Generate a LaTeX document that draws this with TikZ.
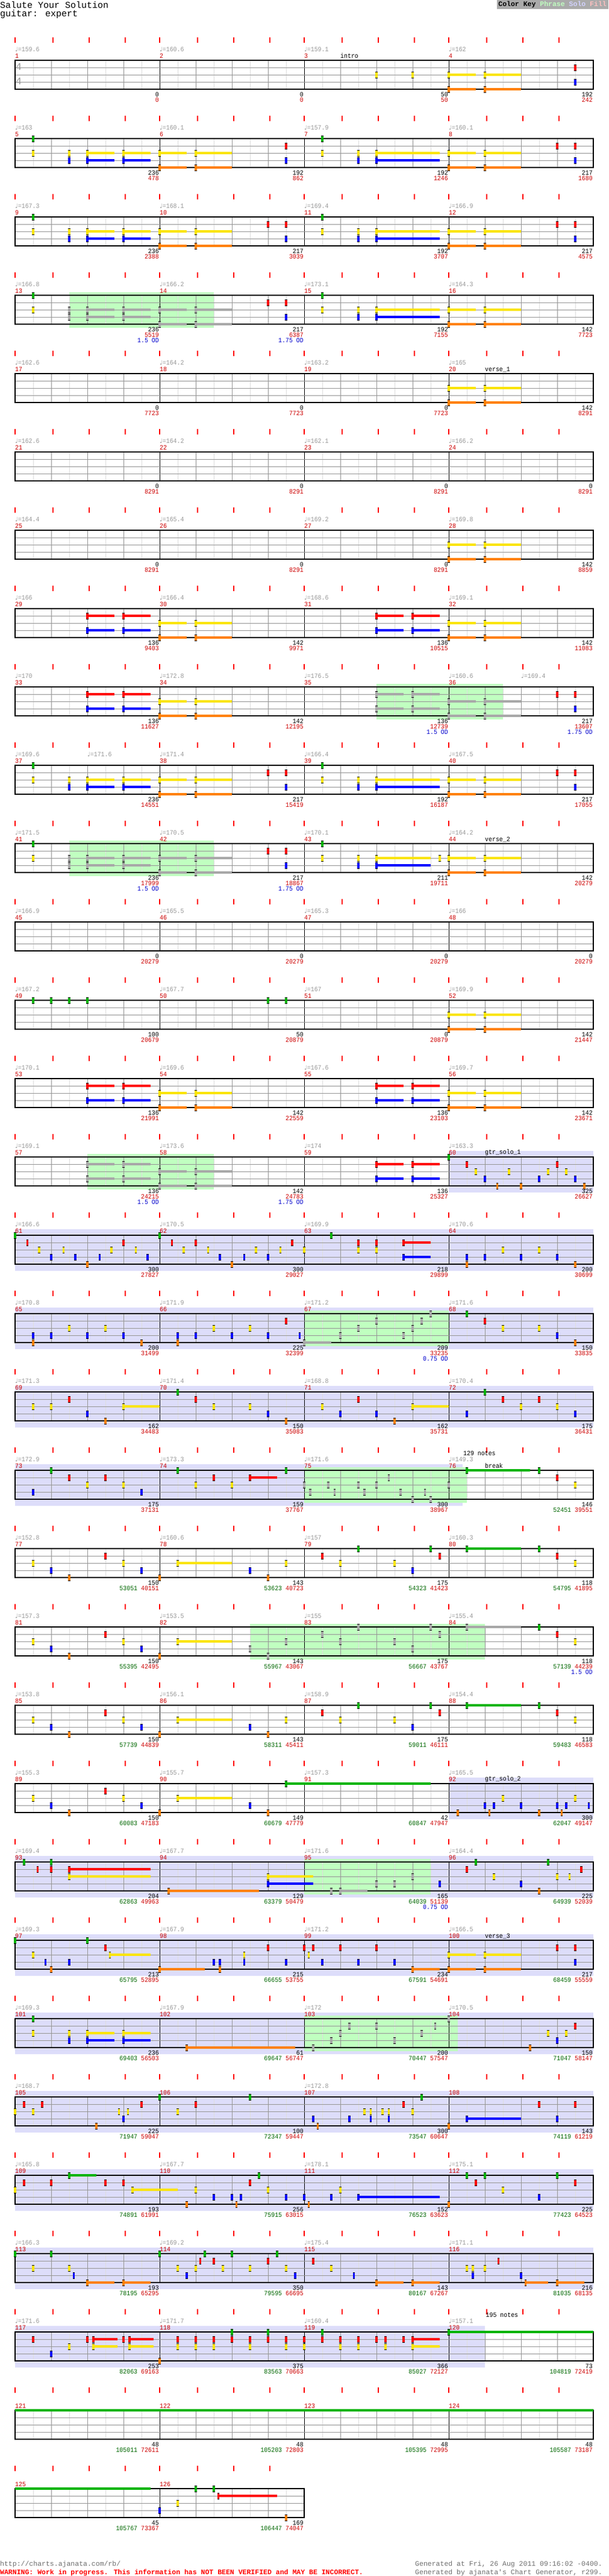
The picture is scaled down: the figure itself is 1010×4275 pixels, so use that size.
\documentclass[tikz,border=0pt]{standalone}
\usepackage{fontspec}
\usepackage{tikz}
\newfontfamily\chartfont[FakeStretch=0.9]{Liberation Mono}
\newfontfamily\plainmono{Liberation Mono}
\newfontfamily\symfont{DejaVu Sans}
\definecolor{nG}{RGB}{0,180,0}
\definecolor{nR}{RGB}{255,0,0}
\definecolor{nY}{RGB}{250,228,0}
\definecolor{nB}{RGB}{0,0,255}
\definecolor{nO}{RGB}{255,128,0}
\definecolor{nS}{RGB}{168,168,168}
\definecolor{phrase}{RGB}{192,255,192}
\definecolor{solofill}{RGB}{221,221,250}
\definecolor{keygray}{RGB}{170,170,170}
\definecolor{keysolo}{RGB}{210,210,255}
\definecolor{keyfill}{RGB}{255,192,192}
\definecolor{tempogray}{RGB}{150,150,150}
\definecolor{darkred}{RGB}{204,0,0}
\definecolor{scgreen}{RGB}{0,102,0}
\definecolor{odblue}{RGB}{0,0,204}
\definecolor{lightline}{RGB}{222,222,222}
\definecolor{midline}{RGB}{150,150,150}
\definecolor{footgray}{RGB}{110,110,110}
\newcommand\cf{\chartfont\fontsize{11}{11}\selectfont}
% lanes and colours of the note letters (lower case = star power)
\def\laneG{0}\def\laneR{1}\def\laneY{2}\def\laneB{3}\def\laneO{4}
\def\laneg{0}\def\laner{1}\def\laney{2}\def\laneb{3}\def\laneo{4}
\def\colG{nG}\def\colR{nR}\def\colY{nY}\def\colB{nB}\def\colO{nO}
\def\colg{nS}\def\colr{nS}\def\coly{nS}\def\colb{nS}\def\colo{nS}
\newcommand\grn[1]{\textcolor{scgreen}{#1}}
\newcommand\rowat[1]{\pgfmathtruncatemacro\rowK{#1}\pgfmathsetmacro\rowT{100+130*(#1-1)}}
\newcommand\staff[1]{%
  \pgfmathtruncatemacro\nq{#1/2-1}%
  \pgfmathtruncatemacro\nk{#1-1}%
  \pgfmathtruncatemacro\nm{#1/8}%
  \pgfmathsetmacro\xr{25+30*#1}%
  \foreach \q in {0,...,\nq}{%
    \pgfmathsetmacro\tx{25+60*\q+ifthenelse(mod(\q,4)==0,0,3)}%
    \draw[tick] (\tx,\rowT-38) -- (\tx,\rowT-29);}%
  \foreach \k in {1,...,\nk}{%
    \pgfmathtruncatemacro\lk{mod(\k,8)==0 ? 2 : (mod(\k,2)==0 ? 1 : 0)}%
    \ifcase\lk \draw[eighthline] ({25+30*\k},\rowT) -- ++(0,48);
    \or \draw[beatline] ({25+30*\k},\rowT) -- ++(0,48);
    \or \draw[barline] ({25+30*\k},\rowT) -- ++(0,48);\fi}%
  \foreach \ly in {12,24,36}{\draw[laneline] (25,\rowT+\ly) -- (\xr,\rowT+\ly);}%
  \draw[border] (25,\rowT) rectangle (\xr,\rowT+48);
  \foreach \i in {1,...,\nm}{\node[msr] at ({25+240*(\i-1)},\rowT-7) {\the\numexpr\rowK*4-4+\i\relax};}}
\newcommand\tempo[2]{\node[tmp] at ({25+30*#1},\rowT-18) {{\symfont\fontsize{10}{10}\selectfont ♩}=#2};}
\newcommand\tempos[1]{\foreach \tv [count=\ti from 0] in {#1}{\tempo{8*\ti}{\tv}}}
\newcommand\sect[2]{\node[sec] at ({25+30*#1},\rowT-7) {#2};}
\newcommand\score[3]{\node[scr] at ({24+30*#1},\rowT+57) {#2};\node[cum] at ({24+30*#1},\rowT+66) {#3};}
\newcommand\scores[1]{\foreach \sa/\sb [count=\si] in {#1}{\score{8*\si}{\sa}{\sb}}}
\newcommand\od[2]{\node[odl] at ({24+30*#1},\rowT+75) {#2 OD};}
\newcommand\phr[2]{\fill[phrase] ({25+30*#1},\rowT-5) rectangle ({25+30*#2},\rowT+54);}
\newcommand\solo[2]{\fill[solofill] ({25+30*#1},\rowT-10) rectangle ({25+30*#2},\rowT+59);}
\newcommand\nt[2]{%
  \edef\nlane{\csname lane#1\endcsname}\edef\ncol{\csname col#1\endcsname}%
  \pgfmathsetmacro\nx{25+30*#2}\pgfmathsetmacro\ny{\rowT+12*\nlane}%
  \fill[black] (\nx-1.6,\ny-5.5) rectangle (\nx+1.6,\ny+5.5);
  \fill[\ncol] (\nx-1.6,\ny-4.5) rectangle (\nx+1.6,\ny+4.5);}
\newcommand\notes[1]{\foreach \nc/\ne in {#1}{\nt{\nc}{\ne}}}
\newcommand\susbar[1]{\foreach \nc/\na/\nb in {#1}{%
  \edef\nlane{\csname lane\nc\endcsname}\edef\ncol{\csname col\nc\endcsname}%
  \fill[\ncol] ({25+30*\na},\rowT+12*\nlane-1.7) rectangle ({25+30*\nb},\rowT+12*\nlane+1.7);}}
\newcommand\sus[1]{\susbar{#1}\foreach \nc/\na/\nb in {#1}{\nt{\nc}{\na}}}
% riffs that come back
\newcommand\tailYO{\sus{Y/24/25.5,Y/26/28,O/24/25.5,O/26/28}}
\newcommand\firstA{\notes{G/1,Y/1,Y/3,B/3,R/15,B/15}\sus{Y/4/5.5,Y/6/7.5,Y/8/9.5,Y/10/12,B/4/5.5,B/6/7.5,O/8/9.5,O/10/12}}
\newcommand\secondA{\notes{G/17,Y/17,Y/19,B/19}\sus{Y/20/23.5,B/20/23.5}\tailYO}
\newcommand\closeA{\notes{R/30,R/31,B/31}}
\newcommand\firstB{\sus{R/4/5.5,R/6/7.5,B/4/5.5,B/6/7.5,Y/8/9.5,Y/10/12,O/8/9.5,O/10/12}}
\newcommand\secondB{\sus{R/20/21.5,R/22/23.5,B/20/21.5,B/22/23.5}\tailYO}
\newcommand\firstSP{\notes{G/1,Y/1,y/3,b/3,R/14,R/15,B/15}\sus{y/4/5.5,y/6/7.5,y/8/9.5,y/10/12,b/4/5.5,b/6/7.5,o/8/9.5,o/10/12}}
\newcommand\riffC{\notes{Y/1,B/2,O/3,R/5,Y/6,B/7,O/8}\sus{Y/9/12}}
\newcommand\riffD{\notes{B/13,O/14,Y/15,R/17,Y/18,G/19,Y/21,B/22,G/23,R/23.5,G/29,R/30,Y/31}\sus{G/25/28}}

\begin{document}
\begin{tikzpicture}[x=1pt, y=-1pt,
    tick/.style={draw=nR, line width=1.6pt},
    eighthline/.style={draw=lightline, line width=0.8pt},
    beatline/.style={draw=midline, line width=0.8pt},
    barline/.style={draw=black, line width=1pt},
    laneline/.style={draw=midline, line width=1pt},
    border/.style={draw=black, line width=1.4pt},
    tmp/.style={anchor=west, inner sep=0pt, text=tempogray, font=\cf},
    msr/.style={anchor=west, inner sep=0pt, text=darkred, font=\cf},
    sec/.style={anchor=west, inner sep=0pt, text=black, font=\cf},
    scr/.style={anchor=east, inner sep=0pt, text=black, font=\cf},
    cum/.style={anchor=east, inner sep=0pt, text=darkred, font=\cf},
    odl/.style={anchor=east, inner sep=0pt, text=odblue, font=\cf},
    sig/.style={inner sep=0pt, text=tempogray, font=\plainmono\fontsize{17}{17}\selectfont},
    ttl/.style={anchor=west, inner sep=0pt, font=\plainmono\fontsize{15}{15}\selectfont},
    foot/.style={anchor=west, inner sep=0pt, text=footgray, font=\plainmono\fontsize{11.5}{11.5}\selectfont}
]
    \useasboundingbox (0,0) rectangle (1010,4275);

    % Header
    \node[ttl] (title) at (0,8) {Salute Your Solution};
    \node[ttl] (part) at (0,24) {guitar: expert};
    \fill[keygray] (825,0) rectangle (1010,15);
    \node[anchor=east, inner sep=0pt, font=\plainmono\bfseries\fontsize{11.5}{11.5}\selectfont] (key) at (1007,7.5)
        {Color Key \textcolor{phrase}{Phrase} \textcolor{keysolo}{Solo} \textcolor{keyfill}{Fill}};

    % Rows 1-4
    \rowat{1}\staff{32}\tempos{159.6,160.6,159.1,162}\sect{18}{intro}
    \node[sig] (sigtop) at (31,\rowT+11) {4};
    \node[sig] (sigbot) at (31,\rowT+35) {4};
    \scores{0/0,0/0,50/50,192/242}
    \notes{Y/20,Y/22,R/31,B/31}\tailYO

    \rowat{2}\staff{32}\tempos{163,160.1,157.9,160.1}
    \scores{236/478,192/862,192/1246,217/1680}
    \firstA\secondA\closeA

    \rowat{3}\staff{32}\tempos{167.3,168.1,169.4,166.9}
    \scores{236/2388,217/3039,192/3707,217/4575}
    \firstA\notes{R/14}\secondA\closeA

    \rowat{4}\phr{3}{11}\staff{32}\tempos{166.8,166.2,173.1,164.3}
    \scores{236/5519,217/6387,192/7155,142/7723}\od{8}{1.5}\od{16}{1.75}
    \firstSP\secondA

    % Rows 5-8
    \rowat{5}\staff{32}\tempos{162.6,164.2,163.2,165}\sect{26}{verse\_1}
    \scores{0/7723,0/7723,0/7723,142/8291}
    \tailYO

    \rowat{6}\staff{32}\tempos{162.6,164.2,162.1,166.2}
    \scores{0/8291,0/8291,0/8291,0/8291}

    \rowat{7}\staff{32}\tempos{164.4,165.4,169.2,169.8}
    \scores{0/8291,0/8291,0/8291,142/8859}
    \tailYO

    \rowat{8}\staff{32}\tempos{166,166.4,168.6,169.1}
    \scores{136/9403,142/9971,136/10515,142/11083}
    \firstB\secondB

    % Rows 9-12
    \rowat{9}\phr{20}{27}\staff{32}\tempos{170,172.8,176.5,160.6}\tempo{28}{169.4}
    \scores{136/11627,142/12195,136/12739,217/13607}\od{24}{1.5}\od{32}{1.75}
    \firstB\sus{r/20/21.5,r/22/23.5,b/20/21.5,b/22/23.5,y/24/25.5,y/26/28,o/24/25.5,o/26/28}\closeA

    \rowat{10}\staff{32}\tempos{169.6,171.4,166.4,167.5}\tempo{4}{171.6}
    \scores{236/14551,217/15419,192/16187,217/17055}
    \firstA\notes{R/14}\secondA\closeA

    \rowat{11}\phr{3}{11}\staff{32}\tempos{171.5,170.5,170.1,164.2}\sect{26}{verse\_2}
    \scores{236/17999,217/18867,211/19711,142/20279}\od{8}{1.5}\od{16}{1.75}
    \firstSP\notes{G/17,Y/17,Y/19,B/19,Y/23.5}\sus{Y/20/23,B/20/23}\tailYO

    \rowat{12}\staff{32}\tempos{166.9,165.5,165.3,166}
    \scores{0/20279,0/20279,0/20279,0/20279}

    % Rows 13-16
    \rowat{13}\staff{32}\tempos{167.2,167.7,167,169.9}
    \scores{100/20679,50/20879,0/20879,142/21447}
    \notes{G/1,G/2,G/3,G/4,G/14,G/15}\tailYO

    \rowat{14}\staff{32}\tempos{170.1,169.6,167.6,169.7}
    \scores{136/21991,142/22559,136/23103,142/23671}
    \firstB\secondB

    \rowat{15}\solo{24}{32}\phr{4}{11}\staff{32}\tempos{169.1,173.6,174,163.3}\sect{26}{gtr\_solo\_1}
    \scores{136/24215,142/24783,136/25327,325/26627}\od{8}{1.5}\od{16}{1.75}
    \sus{r/4/5.5,r/6/7.5,b/4/5.5,b/6/7.5,y/8/9.5,y/10/12,o/8/9.5,o/10/12,R/20/21.5,R/22/23.5,B/20/21.5,B/22/23.5}
    \notes{G/24,R/25,Y/25.5,B/26,O/26.67,Y/27.33,O/28,B/29,Y/29.5,R/30,Y/30.5,B/31,O/31.5}

    \rowat{16}\solo{0}{32}\staff{32}\tempos{166.6,170.5,169.9,170.6}
    \scores{300/27827,300/29027,218/29899,200/30699}
    \notes{G/0,R/0.67,Y/1.33,B/2,Y/2.67,B/3.33,O/4,B/4.67,Y/5.33,R/6,Y/6.67,B/7.33,G/8,R/8.67,Y/9.33,R/10,Y/10.67,B/11.33,O/12,B/12.67,Y/13.33,B/14,Y/14.67,R/15.33,Y/16,G/17.5,R/19,Y/19,R/20,Y/20,B/25,O/25,B/26,Y/27,B/28,Y/29,B/30,O/31}
    \sus{R/21.5/23,B/21.5/23}

    % Rows 17-20
    \rowat{17}\solo{0}{32}\phr{16}{24}\staff{32}\tempos{170.8,171.9,171.2,171.6}
    \scores{200/31499,225/32399,209/33235,150/33835}\od{24}{0.75}
    \sus{o/16/17.5}
    \notes{B/1,O/1,B/2,Y/3,B/4,Y/5,B/6,O/7,B/9,O/9,B/10,Y/11,B/12,Y/13,B/14,R/15,B/15.75,b/18,y/19,r/20,b/21.5,y/22,r/22.5,g/23,G/25,R/26,Y/27,Y/29,B/30,O/31}

    \rowat{18}\solo{0}{32}\staff{32}\tempos{171.3,171.4,168.8,170.4}
    \scores{162/34483,150/35083,162/35731,175/36431}
    \notes{Y/1,Y/2,R/3,B/4,O/5,G/9,R/10,Y/11,Y/13,B/14,O/15,Y/17,B/18,R/19,B/20,O/21,B/25,G/26,R/27,Y/28,R/29,Y/30,B/31}
    \sus{Y/6/8,Y/22/24}

    \rowat{19}\solo{0}{24.76}\phr{16}{25}\staff{32}\tempos{172.9,173.3,171.6,149.3}\sect{26}{break}
    \node[sec] (count1) at ({25+30*24.8},\rowT-28) {129 notes};
    \scores{175/37131,159/37767,300/38967,146/\grn{52451} 39551}
    \notes{B/1,G/2,R/3,Y/4,R/5,Y/6,B/7,G/9,Y/10,R/11,Y/12,G/15,y/16,b/16.33,y/17.33,b/17.67,y/19,b/19.33,y/20,r/20.67,b/21.33,o/22,b/22.67,o/23,y/24,G/29,R/30,Y/31}
    \sus{R/13/14.5,G/25/28.5}

    \rowat{20}\staff{32}\tempos{152.8,160.6,157,160.3}
    \scores{150/\grn{53051} 40151,143/\grn{53623} 40723,175/\grn{54323} 41423,118/\grn{54795} 41895}
    \riffC\riffD

    % Rows 21-24
    \rowat{21}\phr{13}{26}\staff{32}\tempos{157.3,153.5,155,155.4}
    \scores{150/\grn{55395} 42495,143/\grn{55967} 43067,175/\grn{56667} 43767,118/\grn{57139} 44239}\od{32}{1.5}
    \riffC\notes{b/13,o/14,y/15,r/17,y/18,g/19,y/21,b/22,g/23,r/23.5,G/29,R/30,Y/31}\sus{g/25/28}

    \rowat{22}\staff{32}\tempos{153.8,156.1,158.9,154.4}
    \scores{150/\grn{57739} 44839,143/\grn{58311} 45411,175/\grn{59011} 46111,118/\grn{59483} 46583}
    \riffC\riffD

    \rowat{23}\solo{24}{32}\staff{32}\tempos{155.3,155.7,157.3,165.5}\sect{26}{gtr\_solo\_2}
    \scores{150/\grn{60083} 47183,149/\grn{60679} 47779,42/\grn{60847} 47947,300/\grn{62047} 49147}
    \riffC\sus{G/15/23}
    \notes{B/13,O/14,O/24.5,B/26,O/26.25,B/26.5,Y/27,B/28,O/29,B/30,O/30.25,B/30.5,Y/31,B/31.75}

    \rowat{24}\solo{0}{32}\phr{16}{23}\staff{32}\tempos{169.4,167.7,171.6,164.4}
    \scores{204/\grn{62863} 49963,129/\grn{63379} 50479,165/\grn{64039} 51139,225/\grn{64939} 52039}\od{24}{0.75}
    \sus{R/3/7.5,Y/3/7.5,O/8.5/13.5,Y/14/16.5,B/14/16.5,o/18/19.5}
    \notes{G/0.5,R/1.25,G/2,R/2,o/17.5,b/20,b/21,y/22,B/23.5,R/25,G/25.5,Y/26.5,B/28,O/29,G/29.5,Y/30,Y/30.67,R/31.33}

    % Rows 25-28
    \rowat{25}\solo{0}{32}\staff{32}\tempos{169.3,167.9,171.2,166.5}\sect{26}{verse\_3}
    \scores{213/\grn{65795} 52895,215/\grn{66655} 53755,234/\grn{67591} 54691,217/\grn{68459} 55559}
    \sus{Y/5.25/7.5,O/8/10.5,O/22/23.5}\tailYO
    \notes{G/0,Y/1,B/1.67,O/2,B/3,G/4,R/5,B/11,B/11.33,O/11.33,Y/12.67,B/12.67,R/14,B/15,R/16,Y/16.25,R/16.5,B/17,R/18,B/19,R/20,B/21,R/30,R/31,B/31}

    \rowat{26}\solo{0}{32}\phr{16}{24.5}\staff{32}\tempos{169.3,167.9,172,170.5}
    \scores{236/\grn{69403} 56503,61/\grn{69647} 56747,200/\grn{70447} 57547,150/\grn{71047} 58147}
    \sus{Y/4/5.5,Y/6/7.5,B/4/5.5,B/6/7.5,O/9.5/15.5}
    \notes{G/1,Y/1,Y/3,B/3,o/16.5,b/17.5,y/18,r/18.5,r/20,b/21,y/22.5,r/23.25,g/24,O/28.5,Y/29.5,B/30,Y/30.5,R/31}

    \rowat{27}\solo{0}{32}\staff{32}\tempo{0}{168.7}\tempo{16}{172.8}
    \scores{225/\grn{71947} 59047,100/\grn{72347} 59447,300/\grn{73547} 60647,143/\grn{74119} 61219}
    \sus{B/25/28}
    \notes{Y/0,R/0.5,Y/1,R/1.5,O/4.5,Y/5.75,B/6,Y/6.25,R/7,G/8,Y/9,R/10,G/13,B/16.5,O/16.75,B/18.5,Y/19.33,Y/19.67,B/19.67,Y/20.33,Y/20.67,B/20.67,R/21.5,Y/22,G/22.5,O/24,R/29,B/30,R/31}

    \rowat{28}\solo{0}{32}\staff{32}\tempos{165.8,167.7,178.1,175.1}
    \scores{193/\grn{74891} 61991,256/\grn{75915} 63015,152/\grn{76523} 63623,225/\grn{77423} 64523}
    \sus{G/3/4.5,Y/6.5/9,B/19/23.5}
    \notes{Y/0,R/0.5,R/2,R/5,R/6,O/9.5,Y/10,B/11,B/12,O/12.25,B/12.5,R/13,G/13.5,Y/14,B/15,B/16,O/16.25,B/17.5,Y/18,O/24,G/25,R/25.5,G/26,Y/27,B/29,G/30,R/31}

    % Rows 29-32
    \rowat{29}\solo{0}{32}\staff{32}\tempos{166.3,169.2,175.4,171.1}
    \scores{193/\grn{78195} 65295,350/\grn{79595} 66695,143/\grn{80167} 67267,216/\grn{81035} 68135}
    \sus{O/4/5.5,O/6/7.5,O/20/21.5,O/22/23.5,O/28.25/29.5,O/30/31.5}
    \notes{G/0,Y/1,G/2,Y/3,B/3.25,G/8,Y/9,B/9.5,Y/10,R/10.25,G/10.5,R/11,Y/11.5,G/12,Y/13,R/14,G/14.5,Y/15,B/15.5,R/16.5,Y/17.5,B/18.75,Y/25,Y/25.33,B/25.33,Y/26,R/26.75,B/28}

    \rowat{30}\solo{0}{26}\staff{32}\tempos{171.6,171.7,160.4,157.1}
    \node[sec] (count2) at ({25+30*26.05},\rowT-28) {195 notes};
    \scores{253/\grn{82063} 69163,375/\grn{83563} 70663,366/\grn{85027} 72127,73/\grn{104819} 72419}
    \sus{R/4.33/5.67,Y/4.33/5.67,R/6.33/7.67,Y/6.33/7.67,R/22/23.5,Y/22/23.5,G/24/32}
    \notes{R/1,B/2,Y/3,R/4,R/6,O/8,R/9,Y/9,R/10,Y/10,R/11,Y/11,R/12,G/12,R/13,Y/13,R/14,G/14,R/15,Y/15,R/16,Y/16,G/17,R/17,R/18,Y/18,R/19,Y/19,R/20,R/20.5,Y/20.5,R/21.5}

    \rowat{31}\staff{32}
    \scores{48/\grn{105011} 72611,48/\grn{105203} 72803,48/\grn{105395} 72995,48/\grn{105587} 73187}
    \susbar{G/0/32}

    \rowat{32}\staff{16}
    \scores{45/\grn{105767} 73367,169/\grn{106447} 74047}
    \susbar{G/0/7.5}\sus{R/11.25/14.5}
    \notes{B/8,Y/9,G/10,G/11,O/15}

    % Footer
    \node[foot] (url) at (0,4255) {http://charts.ajanata.com/rb/};
    \node[foot, text=nR, font=\plainmono\bfseries\fontsize{11.5}{11.5}\selectfont] (warn) at (0,4269)
        {WARNING: Work in progress. This information has NOT BEEN VERIFIED and MAY BE INCORRECT.};
    \node[foot] (gen1) at (689,4255) {Generated at Fri, 26 Aug 2011 09:16:02 -0400.};
    \node[foot] (gen2) at (689,4269) {Generated by ajanata's Chart Generator, r299.};
\end{tikzpicture}
\end{document}
